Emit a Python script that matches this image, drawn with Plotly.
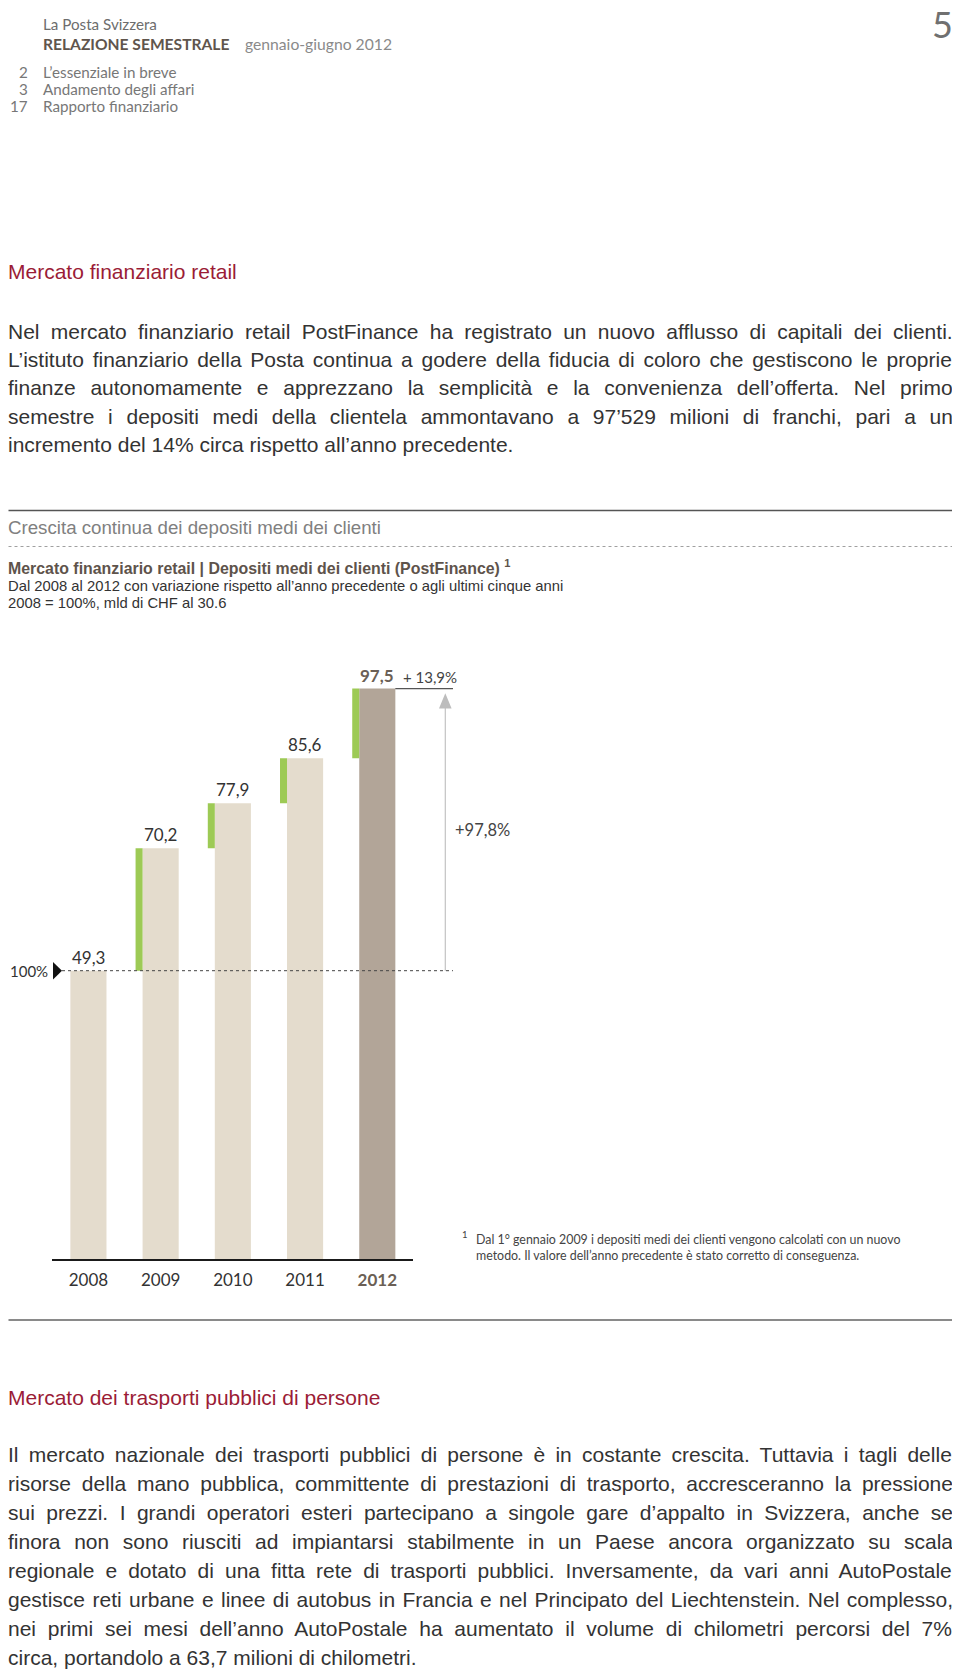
import glob
import struct
import plotly.graph_objects as go

# ---------------- data ----------------
years = ["2008", "2009", "2010", "2011", "2012"]
deposits = [49.3, 70.2, 77.9, 85.6, 97.5]          # mld di CHF
value_labels = ["49,3", "70,2", "77,9", "85,6", "97,5"]
change_prev_year = "+ 13,9%"
change_five_years = "+97,8%"
base_label = "100%"

header_lines = ["La Posta Svizzera", "RELAZIONE SEMESTRALE", "gennaio-giugno 2012"]
toc_numbers = ["2", "3", "17"]
toc_titles = ["L’essenziale in breve", "Andamento degli affari", "Rapporto finanziario"]
page_number = "5"

heading1 = "Mercato finanziario retail"
para1 = [
    "Nel mercato finanziario retail PostFinance ha registrato un nuovo afflusso di capitali dei clienti.",
    "L’istituto finanziario della Posta continua a godere della fiducia di coloro che gestiscono le proprie",
    "finanze autonomamente e apprezzano la semplicità e la convenienza dell’offerta. Nel primo",
    "semestre i depositi medi della clientela ammontavano a 97’529 milioni di franchi, pari a un",
    "incremento del 14% circa rispetto all’anno precedente.",
]
chart_kicker = "Crescita continua dei depositi medi dei clienti"
chart_title = "Mercato finanziario retail | Depositi medi dei clienti (PostFinance) <sup>1</sup>"
chart_sub1 = "Dal 2008 al 2012 con variazione rispetto all’anno precedente o agli ultimi cinque anni"
chart_sub2 = "2008 = 100%, mld di CHF al 30.6"
footnote = ["Dal 1° gennaio 2009 i depositi medi dei clienti vengono calcolati con un nuovo",
            "metodo. Il valore dell’anno precedente è stato corretto di conseguenza."]
heading2 = "Mercato dei trasporti pubblici di persone"
para2 = [
    "Il mercato nazionale dei trasporti pubblici di persone è in costante crescita. Tuttavia i tagli delle",
    "risorse della mano pubblica, committente di prestazioni di trasporto, accresceranno la pressione",
    "sui prezzi. I grandi operatori esteri partecipano a singole gare d’appalto in Svizzera, anche se",
    "finora non sono riusciti ad impiantarsi stabilmente in un Paese ancora organizzato su scala",
    "regionale e dotato di una fitta rete di trasporti pubblici. Inversamente, da vari anni AutoPostale",
    "gestisce reti urbane e linee di autobus in Francia e nel Principato del Liechtenstein. Nel complesso,",
    "nei primi sei mesi dell’anno AutoPostale ha aumentato il volume di chilometri percorsi del 7%",
    "circa, portandolo a 63,7 milioni di chilometri.",
]

# ---------------- style ----------------
PAGE_W, PAGE_H = 960, 1674
M = 8                      # browser body margin
W, H = PAGE_W - M, PAGE_H - M
BODY = "Liberation Sans, Arial, sans-serif"
CH = "Lato, Open Sans, sans-serif"
RED = "#9b1c36"
TXT = "#333333"
BEIGE = "#e4dccd"
TAUPE = "#b2a598"
GREEN = "#9dca55"
BROWN = "#6b5f55"
PAD = 2.5                  # annotation inner padding


def px(x):
    return (x - M) / W


def py(y):
    return 1 - (y - M) / H


# ---- minimal TrueType advance-width reader (for justified text) ----
def load_measure(pattern):
    paths = glob.glob("/usr/share/fonts/**/" + pattern, recursive=True)
    if not paths:
        return None
    try:
        data = open(paths[0], "rb").read()
        n = struct.unpack(">H", data[4:6])[0]
        tabs = {}
        for i in range(n):
            tag, _, off, ln = struct.unpack(">4sIII", data[12 + 16 * i:28 + 16 * i])
            tabs[tag.decode("latin1")] = off
        upm = struct.unpack(">H", data[tabs["head"] + 18:tabs["head"] + 20])[0]
        nhm = struct.unpack(">H", data[tabs["hhea"] + 34:tabs["hhea"] + 36])[0]
        hm = tabs["hmtx"]
        adv = [struct.unpack(">H", data[hm + 4 * i:hm + 4 * i + 2])[0] for i in range(nhm)]
        cm = tabs["cmap"]
        nsub = struct.unpack(">H", data[cm + 2:cm + 4])[0]
        sub = None
        for i in range(nsub):
            pid, eid, off = struct.unpack(">HHI", data[cm + 4 + 8 * i:cm + 12 + 8 * i])
            fmt = struct.unpack(">H", data[cm + off:cm + off + 2])[0]
            if pid == 3 and eid == 1 and fmt == 4:
                sub = cm + off
        if sub is None:
            return None
        segx2 = struct.unpack(">H", data[sub + 6:sub + 8])[0]
        seg = segx2 // 2
        ends = struct.unpack(">%dH" % seg, data[sub + 14:sub + 14 + segx2])
        starts = struct.unpack(">%dH" % seg, data[sub + 16 + segx2:sub + 16 + 2 * segx2])
        deltas = struct.unpack(">%dh" % seg, data[sub + 16 + 2 * segx2:sub + 16 + 3 * segx2])
        rpos = sub + 16 + 3 * segx2
        roffs = struct.unpack(">%dH" % seg, data[rpos:rpos + segx2])

        def gid(c):
            for i in range(seg):
                if ends[i] >= c:
                    if starts[i] > c:
                        return 0
                    if roffs[i] == 0:
                        return (c + deltas[i]) & 0xFFFF
                    a = rpos + 2 * i + roffs[i] + 2 * (c - starts[i])
                    g = struct.unpack(">H", data[a:a + 2])[0]
                    return (g + deltas[i]) & 0xFFFF if g else 0
            return 0

        def measure(s, size):
            return sum(adv[min(gid(ord(ch)), nhm - 1)] for ch in s) * size / upm
        return measure
    except Exception:
        return None


measure_body = load_measure("LiberationSans-Regular.ttf")

annotations = []


def T(x, y, text, size, color=TXT, family=CH, xanchor="left", yanchor="middle", align="left"):
    if xanchor == "left":
        x -= PAD
    elif xanchor == "right":
        x += PAD
    annotations.append(dict(xref="paper", yref="paper", x=px(x), y=py(y), text=text,
                            showarrow=False, xanchor=xanchor, yanchor=yanchor, align=align,
                            font=dict(family=family, size=size, color=color)))


def paragraph(lines, y0, step, size, left=8.5, right=953.5):
    for i, line in enumerate(lines):
        text = line
        if i < len(lines) - 1 and measure_body is not None:
            nat = measure_body(line, size)
            gaps = line.count(" ")
            if gaps:
                ws = (right - left - nat) / gaps
                text = '<span style="word-spacing:%.2fpx">%s</span>' % (ws, line)
        T(left, y0 + i * step, text, size, TXT, BODY)


# ---------------- header ----------------
T(43.8, 24.5, header_lines[0], 15.2, "#6d6d6d")
T(43.8, 43.8, "<b>" + header_lines[1] + "</b>", 15.6, "#5f554d")
T(245.6, 43.8, header_lines[2], 15.7, "#8a8a8a")
for i, (n, t) in enumerate(zip(toc_numbers, toc_titles)):
    yy = 71.5 + i * 17.2
    T(27, yy, n, 15.2, "#777777", xanchor="right")
    T(43.8, yy, t, 15.2, "#777777")
T(942, 24.5, page_number, 36, "#707070", xanchor="center")

# ---------------- text section 1 ----------------
T(8.5, 271.5, heading1, 21, RED, BODY)
paragraph(para1, 331.5, 28.2, 21)

# ---------------- chart header ----------------
T(8.5, 527.5, chart_kicker, 18.7, "#808080", BODY)
T(8.5, 567, "<b>" + chart_title + "</b>", 15.9, "#5e534b", BODY)
T(8.5, 585.5, chart_sub1, 14.8, TXT, BODY)
T(8.5, 603, chart_sub2, 14.8, TXT, BODY)

# footnote
T(462, 1234, "1", 9.5, "#444444")
T(476, 1247, "<br>".join(footnote), 12.4, "#444444")

# ---------------- text section 2 ----------------
T(8.5, 1397.5, heading2, 21, RED, BODY)
paragraph(para2, 1454.5, 29.0, 21)

# ---------------- chart ----------------
fig = go.Figure()
fig.add_trace(go.Bar(x=years, y=deposits, width=0.5,
                     marker=dict(color=[BEIGE] * (len(years) - 1) + [TAUPE], line=dict(width=0)),
                     hoverinfo="skip"))
diffs = [b - a for a, b in zip(deposits[:-1], deposits[1:])]
fig.add_trace(go.Bar(x=years[1:], y=diffs, base=deposits[:-1], width=0.097, offset=-0.347,
                     marker=dict(color=GREEN, line=dict(width=0)), hoverinfo="skip"))

# value labels (category axis -> positions by category index)
for i, (v, lab) in enumerate(zip(deposits, value_labels)):
    last = i == len(deposits) - 1
    annotations.append(dict(xref="x", yref="y", x=i, y=v, showarrow=False,
                            text=("<b>%s</b>" % lab) if last else lab,
                            yanchor="bottom", yshift=1,
                            font=dict(family=CH, size=17, color=BROWN if last else TXT)))
annotations.append(dict(xref="paper", yref="y", x=px(403 - PAD), y=deposits[-1], text=change_prev_year,
                        showarrow=False, xanchor="left", yanchor="bottom", yshift=1,
                        font=dict(family=CH, size=15, color="#444444")))
annotations.append(dict(xref="paper", yref="y", x=px(455 - PAD), y=(deposits[0] + deposits[-1]) / 2,
                        text=change_five_years, showarrow=False, xanchor="left", yanchor="middle",
                        font=dict(family=CH, size=16.5, color="#444444")))
annotations.append(dict(xref="paper", yref="y", x=px(47 + PAD), y=deposits[0], text=base_label,
                        showarrow=False, xanchor="right", yanchor="middle",
                        font=dict(family=CH, size=15, color=TXT)))

shapes = [
    dict(type="line", xref="paper", yref="paper", x0=px(8.5), x1=px(954), y0=py(510.5), y1=py(510.5),
         line=dict(color="#555555", width=1.5)),
    dict(type="line", xref="paper", yref="paper", x0=px(8.5), x1=px(954), y0=py(546.5), y1=py(546.5),
         line=dict(color="#a0a0a0", width=1, dash="dot")),
    dict(type="line", xref="paper", yref="paper", x0=px(8.5), x1=px(954), y0=py(1320), y1=py(1320),
         line=dict(color="#8a8a8a", width=2)),
    # line under the year-on-year change
    dict(type="line", xref="paper", yref="y", x0=px(395.3), x1=px(453), y0=deposits[-1], y1=deposits[-1],
         line=dict(color="#555555", width=1.2), layer="above"),
    # 100% reference dotted line
    dict(type="line", xref="paper", yref="y", x0=px(62), x1=px(453), y0=deposits[0], y1=deposits[0],
         line=dict(color="#444444", width=1, dash="dot"), layer="above"),
    # black marker triangle
    dict(type="path", xref="paper", yref="y",
         path="M %f,%f L %f,%f L %f,%f Z" % (px(53), deposits[0] + 1.5, px(62), deposits[0],
                                             px(53), deposits[0] - 1.5),
         fillcolor="#111111", line=dict(width=0), layer="above"),
    # five-year arrow
    dict(type="line", xref="paper", yref="y", x0=px(445.3), x1=px(445.3), y0=deposits[0],
         y1=deposits[-1] - 3.0, line=dict(color="#c2c2c2", width=1.2), layer="above"),
    dict(type="path", xref="paper", yref="y",
         path="M %f,%f L %f,%f L %f,%f Z" % (px(439.0), deposits[-1] - 3.4, px(445.3), deposits[-1] - 0.8,
                                             px(451.6), deposits[-1] - 3.4),
         fillcolor="#bdbdbd", line=dict(width=0), layer="above"),
]

base_px, top_px, unit_px = 1259.3, 660.0, 5.854
tick_text = years[:-1] + ['<span style="color:%s;font-weight:bold">%s</span>' % (BROWN, years[-1])]

fig.update_layout(
    width=W, height=H, margin=dict(l=0, r=0, t=0, b=0),
    paper_bgcolor="white", plot_bgcolor="white",
    showlegend=False, barmode="overlay",
    xaxis=dict(domain=[px(52.3), px(413.4)], type="category", range=[-0.5, 4.5],
               showline=True, linecolor="#1a1a1a", linewidth=1.5, ticks="", showgrid=False,
               zeroline=False, tickmode="array", tickvals=years, ticktext=tick_text,
               tickfont=dict(family=CH, size=17, color=TXT), ticklabelstandoff=5, fixedrange=True),
    yaxis=dict(domain=[py(base_px), py(top_px)], range=[0, (base_px - top_px) / unit_px],
               visible=False, fixedrange=True),
    annotations=annotations, shapes=shapes,
)

fig.write_html("out.html")
